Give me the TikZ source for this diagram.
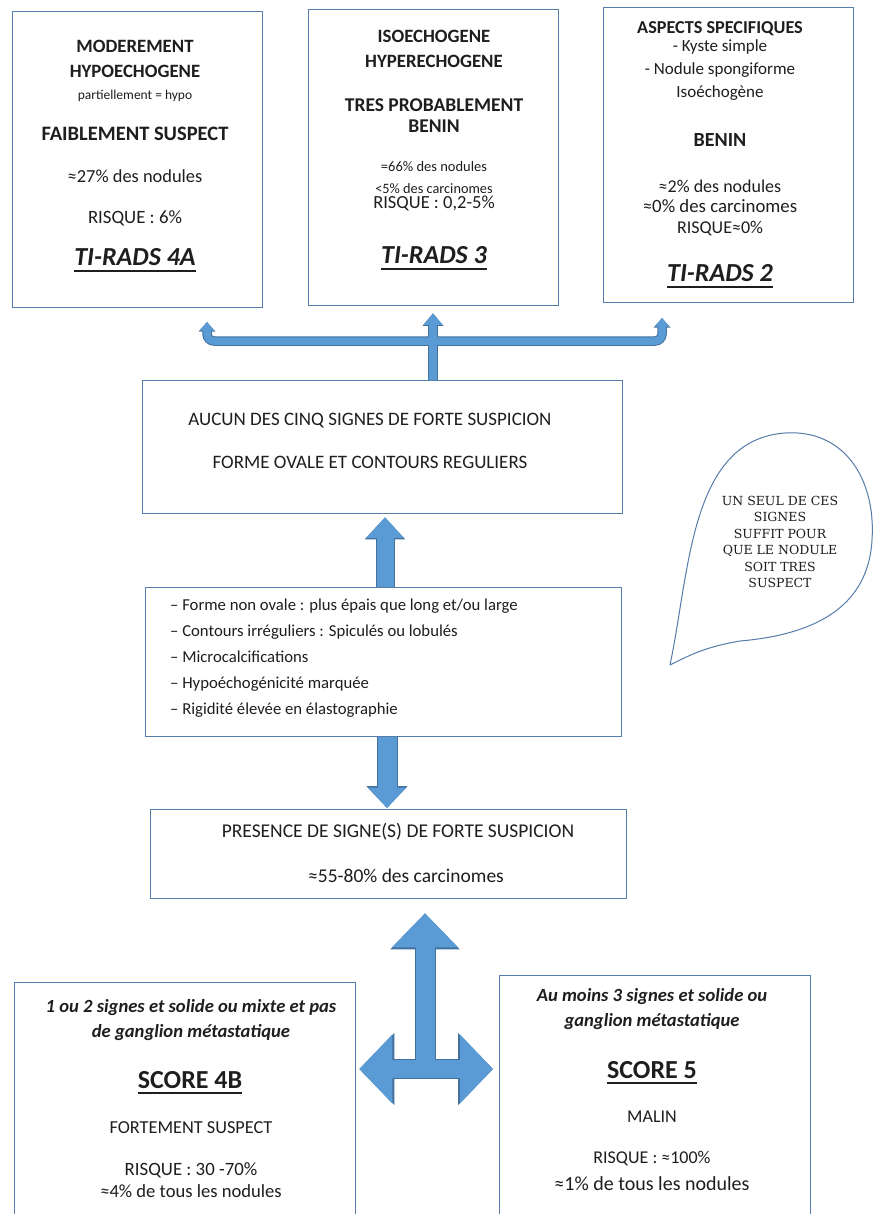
\documentclass[tikz,border=0pt]{standalone}
\usepackage{fontspec}
\setmainfont{Carlito}
\newfontfamily\slabfont{DejaVu Serif}
\usetikzlibrary{arrows.meta,calc}
\definecolor{boxc}{RGB}{86,124,170}
\definecolor{arrf}{RGB}{91,155,213}
\definecolor{arrd}{RGB}{65,113,156}
\definecolor{txc}{RGB}{30,30,30}
\newcommand{\fs}[1]{\fontsize{#1}{#1}\selectfont}
\newcommand{\myul}[1]{\leavevmode\setbox0\hbox{#1}\rlap{\rule[-6pt]{\wd0}{1.6pt}}\box0}
\begin{document}
\begin{tikzpicture}[x=1pt,y=-1pt,
  box/.style={draw=boxc,line width=1.3pt,inner sep=0pt,anchor=north west},
  tx/.style={anchor=base,inner sep=0pt,text=txc},
  txl/.style={anchor=base west,inner sep=0pt,text=txc},
  hd/.style={font=\bfseries\fs{18.8}},
  tir/.style={font=\bfseries\itshape\fs{26}},
  sc/.style={font=\bfseries\fs{26}},
  bi/.style={font=\bfseries\itshape\fs{18.6}},
  cal/.style={anchor=base,inner sep=0pt,text=txc,font=\slabfont\fs{12.5}},
  thind/.style={draw=arrd,line width=9.5pt},
  thinl/.style={draw=arrf,line width=7.5pt},
  bigd/.style={draw=arrd,line width=#1+2pt},
  bigl/.style={draw=arrf,line width=#1}
]
\useasboundingbox (0,0) rectangle (874,1214);
\clip (0,0) rectangle (874,1214);
\fill[white] (0,0) rectangle (874,1214);

% ---------- boxes
\node[box,minimum width=250pt,minimum height=296pt] (b4a) at (12,11) {};
\node[box,minimum width=250pt,minimum height=296pt] (b3) at (308,9) {};
\node[box,minimum width=250pt,minimum height=295pt] (b2) at (603,7) {};
\node[box,minimum width=480pt,minimum height=133pt] (aucun) at (142,380) {};
\node[box,minimum width=476pt,minimum height=149pt] (signs) at (145,587) {};
\node[box,minimum width=476pt,minimum height=89pt] (presence) at (150,809) {};
\node[box,minimum width=341pt,minimum height=260pt] (bl) at (14,982) {};
\node[box,minimum width=311pt,minimum height=270pt] (br) at (499,975) {};

% ---------- box TI-RADS 4A
\node[tx,hd] (m1) at (135,53) {MODEREMENT};
\node[tx,hd] (m2) at (135,78) {HYPOECHOGENE};
\node[tx,font=\fs{13.5}] (m3) at (135,100) {partiellement = hypo};
\node[tx,font=\bfseries\fs{20.5}] (m4) at (135,141) {FAIBLEMENT SUSPECT};
\node[tx,font=\fs{18.4}] (m5) at (135,183) {≈27\% des nodules};
\node[tx,font=\fs{18.8}] (m6) at (135,224) {RISQUE : 6\%};
\node[tx,tir] (m7) at (135,266) {\myul{TI-RADS 4A}};

% ---------- box TI-RADS 3
\node[tx,hd] (i1) at (434,43) {ISOECHOGENE};
\node[tx,hd] (i2) at (434,68) {HYPERECHOGENE};
\node[tx,font=\bfseries\fs{19.5}] (i3) at (434,112) {TRES PROBABLEMENT};
\node[tx,font=\bfseries\fs{19.5}] (i4) at (434,133) {BENIN};
\node[tx,font=\fs{14.5}] (i5) at (434,172) {=66\% des nodules};
\node[tx,font=\fs{14.3}] (i6) at (434,194) {<5\% des carcinomes};
\node[tx,font=\fs{18.5}] (i7) at (434,209) {RISQUE : 0,2-5\%};
\node[tx,tir] (i8) at (434,264) {\myul{TI-RADS 3}};

% ---------- box TI-RADS 2
\node[tx,font=\bfseries\fs{18.2}] (a1) at (720,34) {ASPECTS SPECIFIQUES};
\node[tx,font=\fs{17}] (a2) at (720,52) {- Kyste simple};
\node[tx,font=\fs{17}] (a3) at (720,75) {- Nodule spongiforme};
\node[tx,font=\fs{17}] (a4) at (720,98) {Isoéchogène};
\node[tx,font=\bfseries\fs{20}] (a5) at (720,147) {BENIN};
\node[tx,font=\fs{18}] (a6) at (720,193) {≈2\% des nodules};
\node[tx,font=\fs{18.8}] (a7) at (720,213) {≈0\% des carcinomes};
\node[tx,font=\fs{18}] (a8) at (720,234) {RISQUE≈0\%};
\node[tx,tir] (a9) at (720,282) {\myul{TI-RADS 2}};

% ---------- AUCUN
\node[tx,font=\fs{19}] (u1) at (370,425) {AUCUN DES CINQ SIGNES DE FORTE SUSPICION};
\node[tx,font=\fs{19}] (u2) at (370,468) {FORME OVALE ET CONTOURS REGULIERS};

% ---------- signs
\node[txl,font=\fs{16.7}] (s1) at (170,610) {– Forme non ovale : plus épais que long et/ou large};
\node[txl,font=\fs{16.7}] (s2) at (170,636) {– Contours irréguliers : Spiculés ou lobulés};
\node[txl,font=\fs{16.7}] (s3) at (170,662) {– Microcalcifications};
\node[txl,font=\fs{16.7}] (s4) at (170,688) {– Hypoéchogénicité marquée};
\node[txl,font=\fs{16.7}] (s5) at (170,714) {– Rigidité élevée en élastographie};

% ---------- presence
\node[tx,font=\fs{19.5}] (p1) at (398,837) {PRESENCE DE SIGNE(S) DE FORTE SUSPICION};
\node[tx,font=\fs{19.5}] (p2) at (406,882) {≈55-80\% des carcinomes};

% ---------- bottom left
\node[tx,bi] (l1) at (191,1012) {1 ou 2 signes et solide ou mixte et pas};
\node[tx,bi] (l2) at (191,1037) {de ganglion métastatique};
\node[tx,sc] (l3) at (190,1088) {\myul{SCORE 4B}};
\node[tx,font=\fs{18.3}] (l4) at (191,1133) {FORTEMENT SUSPECT};
\node[tx,font=\fs{18.8}] (l5) at (191,1175) {RISQUE : 30 -70\%};
\node[tx,font=\fs{18.6}] (l6) at (191,1197) {≈4\% de tous les nodules};

% ---------- bottom right
\node[tx,bi] (r1) at (652,1001) {Au moins 3 signes et solide ou};
\node[tx,bi] (r2) at (652,1026) {ganglion métastatique};
\node[tx,sc] (r3) at (652,1078) {\myul{SCORE 5}};
\node[tx,font=\fs{18}] (r4) at (652,1122) {MALIN};
\node[tx,font=\fs{18}] (r5) at (652,1163) {RISQUE : ≈100\%};
\node[tx,font=\fs{20}] (r6) at (652,1190) {≈1\% de tous les nodules};

% ---------- callout bubble
\draw[boxc,line width=1pt,fill=white] (670,665) .. controls (690,570) and (690,440) .. (785,433)
  .. controls (845,429) and (876,480) .. (872,540)
  .. controls (868,610) and (810,635) .. (740,641)
  .. controls (705,647) and (690,655) .. (670,665);
\node[cal] (c1) at (780,505) {UN SEUL DE CES};
\node[cal] (c2) at (780,521.5) {SIGNES};
\node[cal] (c3) at (780,538) {SUFFIT POUR};
\node[cal] (c4) at (780,554.5) {QUE LE NODULE};
\node[cal] (c5) at (780,571) {SOIT TRES};
\node[cal] (c6) at (780,587.5) {SUSPECT};

% ---------- top arrows
\coordinate (tj) at (433,341);
\coordinate (tl) at (207,322);
\coordinate (tr) at (662,318);
\draw[thind,rounded corners=7pt,-{Triangle[width=16pt,length=9.5pt]}] (tj) -| (tl);
\draw[thind,rounded corners=7pt,-{Triangle[width=16pt,length=9.5pt]}] (tj) -| (tr);
\draw[thind,shorten >=7pt,-{Triangle[width=20pt,length=12.5pt]}] (aucun.north -| tj) -- (b3.south -| tj);
\draw[thinl,rounded corners=7pt,-{Triangle[width=14pt,length=8.5pt]}] (tj) -| (tl);
\draw[thinl,rounded corners=7pt,-{Triangle[width=14pt,length=8.5pt]}] (tj) -| (tr);
\draw[thinl,shorten >=7pt,-{Triangle[width=18pt,length=11.5pt]}] (aucun.north -| tj) -- (b3.south -| tj);

% ---------- middle arrows
\coordinate (mx1) at (385,0);
\coordinate (mx2) at (387,0);
\draw[bigd=17pt,shorten >=3pt,-{Triangle[width=39pt,length=22pt]}] (signs.north -| mx1) -- (aucun.south -| mx1);
\draw[bigd=19pt,shorten >=1pt,-{Triangle[width=40pt,length=22pt]}] (signs.south -| mx2) -- (presence.north -| mx2);
\draw[bigl=17pt,shorten >=3pt,-{Triangle[width=36pt,length=20.5pt]}] (signs.north -| mx1) -- (aucun.south -| mx1);
\draw[bigl=19pt,shorten >=1pt,-{Triangle[width=37pt,length=20.5pt]}] (signs.south -| mx2) -- (presence.north -| mx2);

% ---------- bottom T arrow
\coordinate (tj2) at (425,1069);
\draw[bigd=19pt,shorten >=14pt,-{Triangle[width=67pt,length=36pt]}] (tj2) -- (presence.south -| tj2);
\draw[bigd=18pt,shorten >=3pt,-{Triangle[width=70pt,length=35pt]}] (tj2) -- (bl.east |- tj2);
\draw[bigd=18pt,shorten >=6pt,-{Triangle[width=70pt,length=35pt]}] (tj2) -- (br.west |- tj2);
\draw[bigl=19pt,shorten >=14pt,-{Triangle[width=64pt,length=34pt]}] (tj2) -- (presence.south -| tj2);
\draw[bigl=18pt,shorten >=3pt,-{Triangle[width=67pt,length=33pt]}] (tj2) -- (bl.east |- tj2);
\draw[bigl=18pt,shorten >=6pt,-{Triangle[width=67pt,length=33pt]}] (tj2) -- (br.west |- tj2);
\end{tikzpicture}
\end{document}
